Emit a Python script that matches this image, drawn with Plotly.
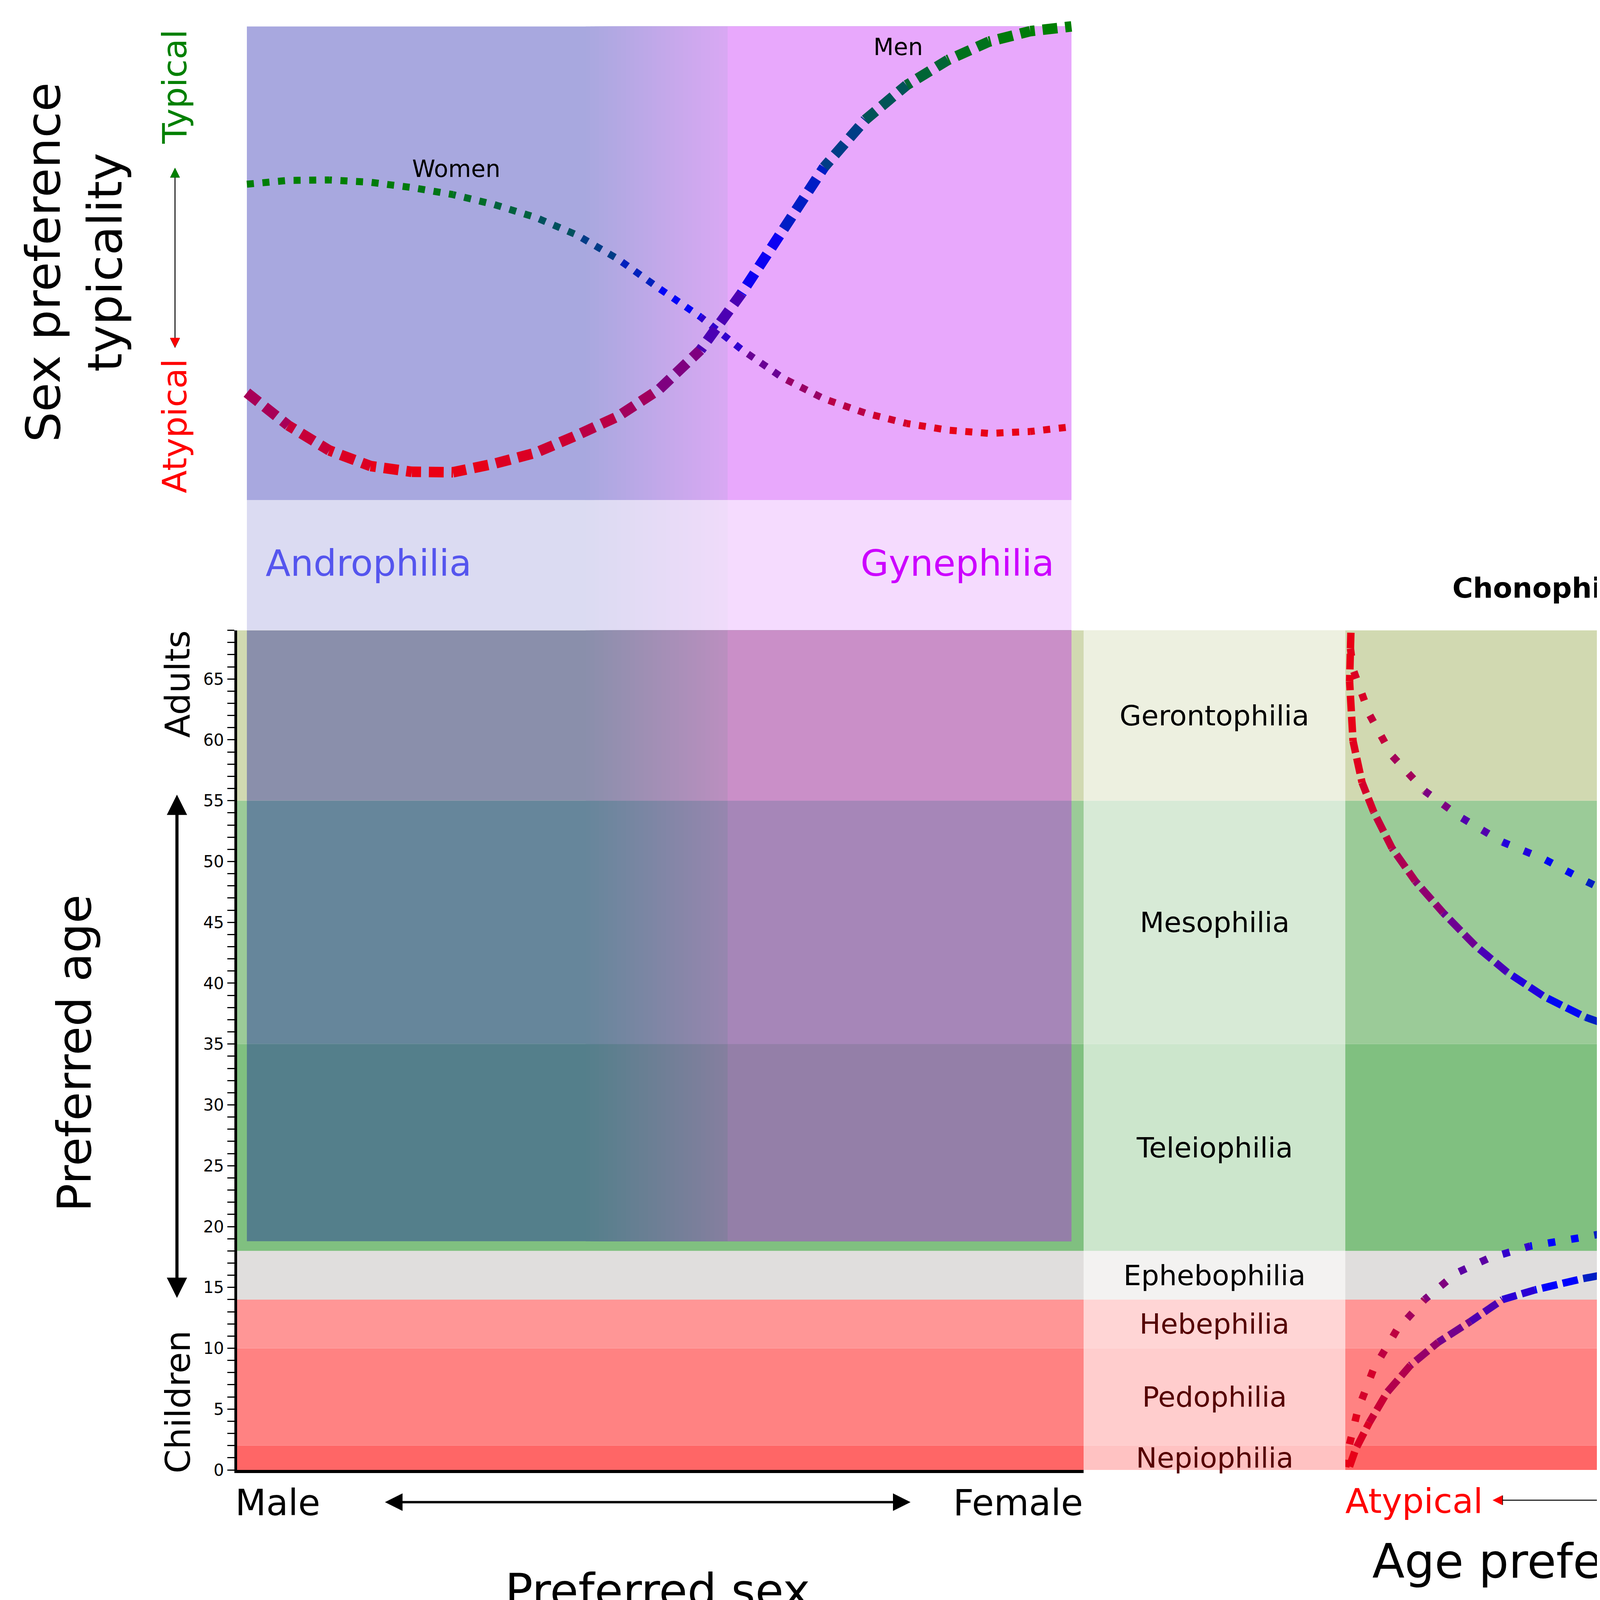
import math
import plotly.graph_objects as go

# ---------------- data ----------------
# chronophilia age bands (years)
band_names = ["Nepiophilia", "Pedophilia", "Hebephilia", "Ephebophilia",
              "Teleiophilia", "Mesophilia", "Gerontophilia"]
band_start = [0, 2, 10, 14, 18, 35, 55]
band_end = [2, 10, 14, 18, 35, 55, 69]
band_fill = [(255, 102, 102), (255, 130, 130), (255, 150, 150), (224, 222, 221),
             (128, 192, 128), (155, 203, 152), (209, 217, 177)]
band_text = ["#550000", "#550000", "#550000", "black", "black", "black", "black"]

# top panel: sex preference typicality vs preferred sex (0 = male, 1 = female)
sex_grid = [0.00, 0.05, 0.10, 0.15, 0.20, 0.25, 0.30, 0.35, 0.40, 0.45, 0.50,
            0.55, 0.60, 0.65, 0.70, 0.75, 0.80, 0.85, 0.90, 0.95, 1.00]
men_sex_typ = [0.227, 0.158, 0.105, 0.072, 0.060, 0.059, 0.077, 0.100, 0.137, 0.177, 0.234,
               0.317, 0.437, 0.570, 0.703, 0.803, 0.876, 0.929, 0.968, 0.990, 1.000]
women_sex_typ = [0.667, 0.675, 0.676, 0.671, 0.660, 0.645, 0.624, 0.597, 0.560, 0.509, 0.447,
                 0.387, 0.318, 0.258, 0.214, 0.184, 0.162, 0.148, 0.141, 0.145, 0.155]

# right panel: age preference typicality vs preferred age
men_age = [68.8, 64.8, 59.9, 56.5, 54.1, 51.1, 48.4, 45.8, 43.1, 40.9, 38.9, 37.2,
           36.0, 34.8, 33.0, 30.8, 28.9, 26.7, 24.7, 22.3, 20.3, 18.8, 17.6, 16.4,
           15.7, 14.8, 14.0, 12.2, 10.5, 8.6, 6.4, 3.9, 1.7, 0.0]
men_age_typ = [0.013, 0.010, 0.018, 0.039, 0.066, 0.109, 0.163, 0.228, 0.303, 0.378, 0.464, 0.561,
               0.658, 0.755, 0.841, 0.905, 0.948, 0.970, 0.975, 0.959, 0.916, 0.851, 0.766, 0.658,
               0.551, 0.443, 0.367, 0.292, 0.217, 0.152, 0.098, 0.056, 0.024, 0.007]
women_age = [67.5, 65.8, 62.1, 58.7, 55.8, 53.6, 51.6, 50.2, 48.4, 46.7, 44.8, 42.1,
             39.4, 36.0, 32.0, 28.6, 26.2, 23.3, 21.8, 20.8, 19.8, 19.1, 18.4, 17.4,
             16.2, 14.0, 11.5, 8.3, 4.9, 1.7, 0.0]
women_age_typ = [0.012, 0.018, 0.056, 0.109, 0.185, 0.271, 0.367, 0.464, 0.561, 0.658, 0.755, 0.841,
                 0.905, 0.948, 0.975, 0.977, 0.964, 0.916, 0.841, 0.766, 0.658, 0.551, 0.432, 0.335,
                 0.260, 0.185, 0.120, 0.066, 0.029, 0.007, 0.000]

overlay_from_age = 18.8

# ---------------- layout geometry (pixels) ----------------
W, H = 4600, 4300
PAGE_MARGIN = 8  # the html body margin shifts the plot by this much
SEX0_PX, SEX1_PX = 632, 2743
BAND_L, BAND_R = 607, 2774
LABEL_R, RIGHT_R = 3444, 4541
TOP_PX, TOP_BOTTOM_PX, LIGHT_BOTTOM_PX = 68, 1288, 1623
TOP_AXIS_PX = 40
AGE0_PX, AGE_TOP_PX = 3785, 1623
AGE_MAX = 69


def fx(p):
    return (p - PAGE_MARGIN) / W


def fy(p):
    return 1 - (p - PAGE_MARGIN) / H


sex_span = SEX1_PX - SEX0_PX
typ_span = TOP_BOTTOM_PX - TOP_PX
x_range = [(BAND_L - SEX0_PX) / sex_span, (BAND_R - SEX0_PX) / sex_span]
y_top_range = [(TOP_BOTTOM_PX - LIGHT_BOTTOM_PX) / typ_span, 1 + (TOP_PX - TOP_AXIS_PX) / typ_span]
age_px = (AGE0_PX - AGE_TOP_PX) / AGE_MAX


def top_to_px(s, t):
    return SEX0_PX + s * sex_span, TOP_BOTTOM_PX - t * typ_span


def right_to_px(t, a):
    return LABEL_R + t * (RIGHT_R - LABEL_R), AGE0_PX - a * age_px


def rgb(c):
    return "rgb(%d,%d,%d)" % tuple(int(round(v)) for v in c)


def mix(c1, c2, f):
    return tuple(a + (b - a) * f for a, b in zip(c1, c2))


# red -> blue -> green along typicality
RED, BLUE, GREEN = (235, 0, 20), (0, 0, 255), (0, 128, 0)


def typ_color(t):
    if t < 0.5:
        return rgb(mix(RED, BLUE, t / 0.5))
    return rgb(mix(BLUE, GREEN, (t - 0.5) / 0.5))


def dashed_curve(xs, ys, vals, to_px, on, off, width, xaxis, yaxis):
    # one trace per segment so the colour can follow typicality,
    # dash pattern carried on from one segment to the next
    lo, hi = min(vals), max(vals)
    period = on + off
    phase = 0.0
    out = []
    for i in range(len(xs) - 1):
        x0, y0 = to_px(xs[i], ys[i])
        x1, y1 = to_px(xs[i + 1], ys[i + 1])
        seg = math.hypot(x1 - x0, y1 - y0)
        if phase < on:
            parts = [on - phase, off]
        else:
            parts = [0, period - phase]
        total = sum(parts)
        while total < seg:
            parts += [on, off]
            total += period
        phase = (phase + seg) % period
        t = ((vals[i] + vals[i + 1]) / 2 - lo) / (hi - lo)
        out.append(go.Scatter(
            x=[xs[i], xs[i + 1]], y=[ys[i], ys[i + 1]], mode="lines",
            line=dict(color=typ_color(t), width=width,
                      dash=",".join("%.2fpx" % p for p in parts)),
            xaxis=xaxis, yaxis=yaxis, hoverinfo="skip", showlegend=False))
    return out


fig = go.Figure()

for tr in dashed_curve(sex_grid, women_sex_typ, women_sex_typ, top_to_px, 18, 22, 18, "x", "y"):
    fig.add_trace(tr)
for tr in dashed_curve(sex_grid, men_sex_typ, men_sex_typ, top_to_px, 38, 20, 27, "x", "y"):
    fig.add_trace(tr)
for tr in dashed_curve(women_age_typ, women_age, women_age_typ, right_to_px, 19, 41, 19, "x3", "y3"):
    fig.add_trace(tr)
for tr in dashed_curve(men_age_typ, men_age, men_age_typ, right_to_px, 40, 14, 19, "x3", "y3"):
    fig.add_trace(tr)

# ---------------- background shapes ----------------
shapes = []
for b0, b1, col in zip(band_start, band_end, band_fill):
    shapes.append(dict(type="rect", xref="paper", yref="y2", x0=fx(BAND_L), x1=fx(RIGHT_R),
                       y0=b0, y1=b1, fillcolor=rgb(col), line_width=0, layer="below"))
shapes.append(dict(type="rect", xref="paper", yref="y2", x0=fx(BAND_R), x1=fx(LABEL_R),
                   y0=0, y1=AGE_MAX, fillcolor="rgba(255,255,255,0.6)", line_width=0, layer="below"))

# androphilia -> gynephilia tint
O_LEFT, O_MID, O_RIGHT = (0, 0, 160), (144, 0, 220), (187, 0, 246)
GRAD_FROM, GRAD_TO, N_STRIPS = 0.411, 0.583, 32


def tint_shapes(base, alpha, yref, y0, y1):
    def tint(o):
        return rgb(mix(base, o, alpha))
    xref = "x2" if yref == "y2" else "x"
    out = [dict(type="rect", xref=xref, yref=yref, x0=0, x1=1, y0=y0, y1=y1,
                fillcolor=tint(O_LEFT), line_width=0, layer="below")]
    step = (GRAD_TO - GRAD_FROM) / N_STRIPS
    for i in range(N_STRIPS):
        out.append(dict(type="rect", xref=xref, yref=yref, x0=GRAD_FROM + i * step, x1=1,
                        y0=y0, y1=y1, fillcolor=tint(mix(O_LEFT, O_MID, (i + 0.5) / N_STRIPS)),
                        line_width=0, layer="below"))
    out.append(dict(type="rect", xref=xref, yref=yref, x0=GRAD_TO, x1=1, y0=y0, y1=y1,
                    fillcolor=tint(O_RIGHT), line_width=0, layer="below"))
    return out


WHITE = (255, 255, 255)
shapes += tint_shapes(WHITE, 0.34, "y", 0, 1)
shapes += tint_shapes(WHITE, 0.14, "y", y_top_range[0], 0)
for b0, b1, col in zip(band_start, band_end, band_fill):
    if b1 > overlay_from_age:
        shapes += tint_shapes(col, 0.34, "y2", max(b0, overlay_from_age), b1)

# ---------------- text ----------------
FONT = "DejaVu Sans"
ann = []


def text(t, x, y, size, color="black", angle=0, xanchor="center", xref="paper", yref="paper"):
    if xref == "paper":
        x = fx(x)
    if yref == "paper":
        y = fy(y)
    ann.append(dict(text=t, x=x, y=y, xref=xref, yref=yref, showarrow=False,
                    xanchor=xanchor, yanchor="middle", textangle=angle,
                    font=dict(family=FONT, size=size, color=color)))


def arrow(x0, y0, x1, y1, width, size, color="black", both=True):
    # head at (x1, y1), tail offset in screen pixels
    ann.append(dict(text="", x=fx(x1), y=fy(y1), ax=x0 - x1, ay=y0 - y1,
                    xref="paper", yref="paper", axref="pixel", ayref="pixel",
                    showarrow=True, arrowhead=2, startarrowhead=2,
                    arrowside="end+start" if both else "end",
                    arrowwidth=width, arrowsize=size, startarrowsize=size, arrowcolor=color))


text("Sex preference<br>typicality", 190, 676, 122, angle=-90)
text("Typical", 447, 224, 86, "#008000", -90)
text("Atypical", 447, 1097, 86, "#ff0000", -90)
arrow(448, 895, 448, 432, 2.5, 2)
arrow(448, 452, 448, 432, 2.5, 2, "#008000", False)
arrow(448, 875, 448, 895, 2.5, 2, "#ff0000", False)

text("Women", 0.254, 0.70, 60, xref="x", yref="y")
text("Men", 0.79, 0.957, 60, xref="x", yref="y")
text("Androphilia", 0.022, -0.133, 93, "#5555ee", xanchor="left", xref="x", yref="y")
text("Gynephilia", 0.98, -0.133, 93, "#cc00ff", xanchor="right", xref="x", yref="y")

text("<b>Chonophilias</b>", 3979, 1514, 72)
for name, b0, b1, col in zip(band_names, band_start, band_end, band_text):
    text(name, (BAND_R + LABEL_R) / 2, (b0 + b1) / 2, 72, col, yref="y2")
text("Women", 0.726, 47.4, 60, angle=32, xref="x3", yref="y3")
text("Men", 0.662, 14.5, 60, angle=-23, xref="x3", yref="y3")

text("Preferred age", 190, 2712, 120, angle=-90)
text("Adults", 455, 1762, 88, angle=-90)
text("Children", 455, 3610, 88, angle=-90)
arrow(453, 3336, 453, 2046, 8, 1.3)

text("Male", 600, 3870, 92, xanchor="left")
text("Female", 2775, 3870, 92, xanchor="right")
arrow(984, 3868, 2331, 3868, 6, 1.5)
text("Preferred sex", 1683, 4096, 118)

text("Atypical", 3442, 3865, 88, "#ff0000", xanchor="left")
text("Typical", 4522, 3865, 88, "#008000", xanchor="right")
arrow(3821, 3863, 4187, 3863, 2.5, 2)
arrow(3841, 3863, 3821, 3863, 2.5, 2, "#ff0000", False)
arrow(4167, 3863, 4187, 3863, 2.5, 2, "#008000", False)
text("Age preference<br>typicality", 3976, 4100, 121)

hidden = dict(visible=False, showgrid=False, zeroline=False)
fig.update_layout(
    width=W, height=H, margin=dict(l=0, r=0, t=0, b=0),
    paper_bgcolor="white", plot_bgcolor="rgba(0,0,0,0)",
    showlegend=False, shapes=shapes, annotations=ann,
    font=dict(family=FONT),
    xaxis=dict(domain=[fx(BAND_L), fx(BAND_R)], range=x_range, anchor="y", **hidden),
    yaxis=dict(domain=[fy(LIGHT_BOTTOM_PX), fy(TOP_AXIS_PX)], range=y_top_range, anchor="x", **hidden),
    xaxis2=dict(domain=[fx(BAND_L), fx(BAND_R)], range=x_range, anchor="y2",
                showline=True, linewidth=8, linecolor="black", showticklabels=False,
                ticks="", showgrid=False, zeroline=False),
    yaxis2=dict(domain=[fy(AGE0_PX), fy(AGE_TOP_PX)], range=[0, AGE_MAX], anchor="x2",
                showline=True, linewidth=7, linecolor="black", showgrid=False, zeroline=False,
                tick0=0, dtick=5, ticks="outside", ticklen=18, tickwidth=3, tickcolor="black",
                tickfont=dict(family=FONT, size=42, color="black"),
                minor=dict(dtick=1, ticks="outside", ticklen=18, tickwidth=3,
                           tickcolor="black", showgrid=False)),
    xaxis3=dict(domain=[fx(LABEL_R), fx(RIGHT_R)], range=[0, 1], anchor="y3", **hidden),
    yaxis3=dict(domain=[fy(AGE0_PX), fy(AGE_TOP_PX)], range=[0, AGE_MAX], anchor="x3", **hidden),
)

fig.write_html("out.html")
